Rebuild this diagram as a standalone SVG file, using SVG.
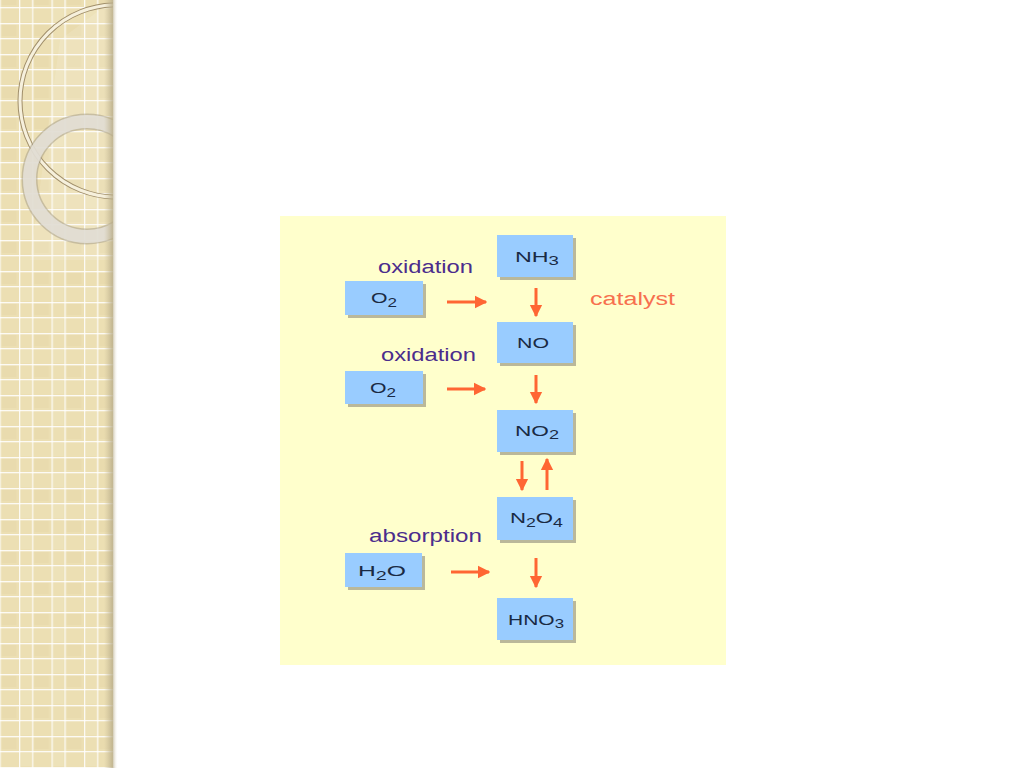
<svg xmlns="http://www.w3.org/2000/svg" width="1024" height="768" viewBox="0 0 1024 768">
<defs>
<style>
.box{fill:#99CCFF;}
.shd{fill:#9C9A84;opacity:0.7;}
.lbl{font-family:"Liberation Sans",Arial,sans-serif;font-size:15px;fill:#1A2A44;}
.sub{font-size:12px;}
.proc{font-family:"Liberation Sans",Arial,sans-serif;font-size:18px;fill:#4B2C8C;}
.cat{font-family:"Liberation Sans",Arial,sans-serif;font-size:18px;fill:#F7704E;}
.arr{stroke:#FF6633;stroke-width:3;fill:none;marker-end:url(#ah);}
</style>
<marker id="ah" viewBox="0 0 10 10" refX="9" refY="5" markerWidth="4.2" markerHeight="5.8" markerUnits="strokeWidth" orient="auto">
<path d="M0,0 L10,5 L0,10 z" fill="#FF6633"/>
</marker>
<pattern id="grid" x="19" y="7" width="32.5" height="31" patternUnits="userSpaceOnUse">
<rect width="32.5" height="31" fill="#ECDFB3"/>
<rect x="2" y="2" width="10" height="13" fill="#EFE4BC" opacity="0.6"/>
<rect x="15" y="18" width="15" height="11" fill="#E7D8AA" opacity="0.6"/>
<rect x="0" y="0" width="1.3" height="31" fill="#FFFFFF" opacity="0.85"/>
<rect x="13" y="0" width="1.3" height="31" fill="#FFFFFF" opacity="0.85"/>
<rect x="0" y="0" width="32.5" height="1.3" fill="#FFFFFF" opacity="0.85"/>
<rect x="0" y="16" width="32.5" height="1.3" fill="#FFFFFF" opacity="0.85"/>
</pattern>
<linearGradient id="edge" x1="0" y1="0" x2="1" y2="0">
<stop offset="0" stop-color="#C8BC98" stop-opacity="0"/>
<stop offset="0.6" stop-color="#B8AC88" stop-opacity="0.8"/>
<stop offset="1" stop-color="#FFFFFF" stop-opacity="0"/>
</linearGradient>
<clipPath id="strip"><rect x="0" y="0" width="113" height="768"/></clipPath>
</defs>
<rect width="1024" height="768" fill="#FFFFFF"/>
<g id="sidebar">
<rect x="0" y="0" width="113" height="768" fill="url(#grid)"/>
<g clip-path="url(#strip)">
<polygon points="60,40 113,0 113,260 30,260" fill="#FFFFFF" opacity="0.12"/>
<circle cx="116" cy="101" r="96" fill="none" stroke="#A08E6A" stroke-width="5"/>
<circle cx="116" cy="101" r="96" fill="none" stroke="#F6F0DC" stroke-width="3"/>
<circle cx="87" cy="179" r="57.5" fill="none" stroke="#A89E88" stroke-width="16" opacity="0.55"/>
<circle cx="87" cy="179" r="57.5" fill="none" stroke="#E6E3DA" stroke-width="13" opacity="0.85"/>
</g>
<rect x="104" y="0" width="14" height="768" fill="url(#edge)"/>
</g>
<rect id="panel" x="280" y="216" width="446" height="449" fill="#FFFFCC"/>
<g id="connectors">
<line class="arr" x1="447" y1="302" x2="486" y2="302"/>
<line class="arr" x1="447" y1="389" x2="485" y2="389"/>
<line class="arr" x1="451" y1="572" x2="489" y2="572"/>
<line class="arr" x1="536" y1="288" x2="536" y2="316"/>
<line class="arr" x1="536" y1="375" x2="536" y2="403"/>
<line class="arr" x1="522" y1="461" x2="522" y2="490"/>
<line class="arr" x1="547" y1="490" x2="547" y2="459"/>
<line class="arr" x1="536" y1="558" x2="536" y2="587"/>
</g>
<g id="NH3">
<rect class="shd" x="500" y="238" width="76" height="42"/>
<rect class="box" x="497" y="235" width="76" height="42"/>
<text class="lbl" x="515" y="262" textLength="44" lengthAdjust="spacingAndGlyphs">NH<tspan class="sub" dy="3">3</tspan></text>
</g>
<g id="O2a">
<rect class="shd" x="348" y="284" width="78" height="34"/>
<rect class="box" x="345" y="281" width="78" height="34"/>
<text class="lbl" x="371" y="303" textLength="26" lengthAdjust="spacingAndGlyphs">O<tspan class="sub" dy="4">2</tspan></text>
</g>
<g id="NO">
<rect class="shd" x="500" y="325" width="76" height="41"/>
<rect class="box" x="497" y="322" width="76" height="41"/>
<text class="lbl" x="517" y="348" textLength="32" lengthAdjust="spacingAndGlyphs">NO</text>
</g>
<g id="O2b">
<rect class="shd" x="348" y="374" width="78" height="33"/>
<rect class="box" x="345" y="371" width="78" height="33"/>
<text class="lbl" x="370" y="393" textLength="26" lengthAdjust="spacingAndGlyphs">O<tspan class="sub" dy="4">2</tspan></text>
</g>
<g id="NO2">
<rect class="shd" x="500" y="413" width="76" height="42"/>
<rect class="box" x="497" y="410" width="76" height="42"/>
<text class="lbl" x="515" y="436" textLength="44" lengthAdjust="spacingAndGlyphs">NO<tspan class="sub" dy="3">2</tspan></text>
</g>
<g id="N2O4">
<rect class="shd" x="500" y="500" width="76" height="43"/>
<rect class="box" x="497" y="497" width="76" height="43"/>
<text class="lbl" x="510" y="523" textLength="53" lengthAdjust="spacingAndGlyphs">N<tspan class="sub" dy="4">2</tspan><tspan dy="-4">O</tspan><tspan class="sub" dy="4">4</tspan></text>
</g>
<g id="H2O">
<rect class="shd" x="348" y="556" width="77" height="34"/>
<rect class="box" x="345" y="553" width="77" height="34"/>
<text class="lbl" x="358" y="576" textLength="48" lengthAdjust="spacingAndGlyphs">H<tspan class="sub" dy="4">2</tspan><tspan dy="-4">O</tspan></text>
</g>
<g id="HNO3">
<rect class="shd" x="500" y="601" width="76" height="42"/>
<rect class="box" x="497" y="598" width="76" height="42"/>
<text class="lbl" x="508" y="625" textLength="56" lengthAdjust="spacingAndGlyphs">HNO<tspan class="sub" dy="3">3</tspan></text>
</g>
<g id="labels">
<text class="proc" x="378" y="273" textLength="95" lengthAdjust="spacingAndGlyphs">oxidation</text>
<text class="proc" x="381" y="361" textLength="95" lengthAdjust="spacingAndGlyphs">oxidation</text>
<text class="proc" x="369" y="542" textLength="113" lengthAdjust="spacingAndGlyphs">absorption</text>
<text class="cat" x="590" y="305" textLength="85" lengthAdjust="spacingAndGlyphs">catalyst</text>
</g>
</svg>
